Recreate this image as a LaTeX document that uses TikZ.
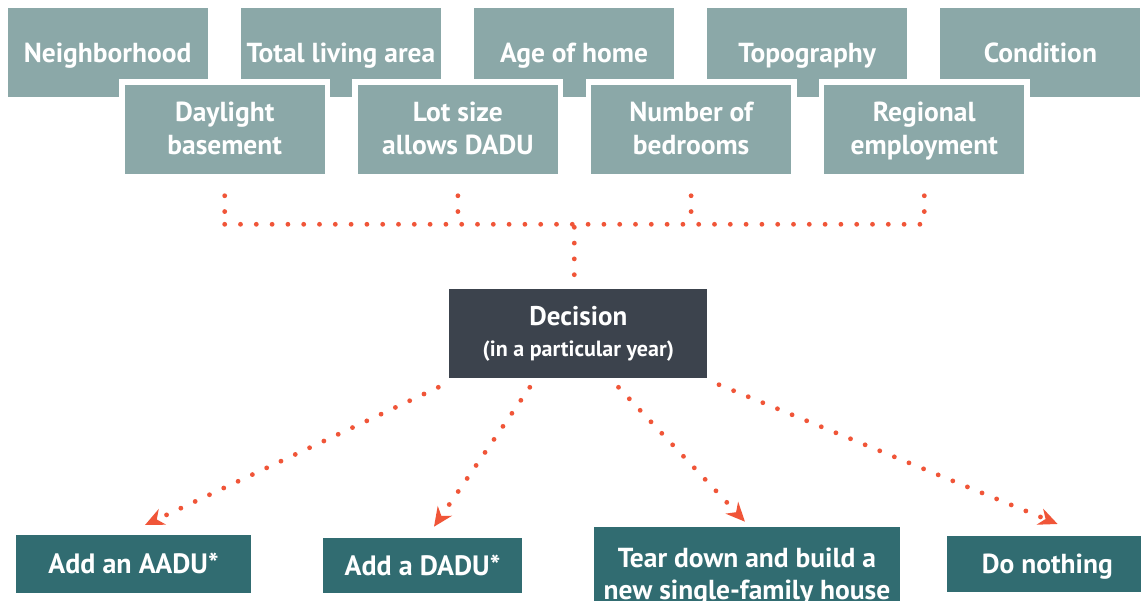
\documentclass[tikz,border=0pt]{standalone}
\usepackage{fontspec}
\setmainfont{PT Sans}
\usetikzlibrary{arrows.meta,calc}
\definecolor{topc}{HTML}{8BA8A8}
\definecolor{decc}{HTML}{3C434D}
\definecolor{botc}{HTML}{316C71}
\definecolor{dotc}{HTML}{F05538}
\begin{document}
\begin{tikzpicture}[x=1pt,y=-1pt,
  topbox/.style={fill=topc, minimum width=200pt, minimum height=89pt, inner sep=0pt, outer sep=0pt,
    text=white, font=\bfseries\fontsize{27.5}{33}\selectfont, align=center, text height=26pt, text depth=6.8pt},
  lowbox/.style={fill=topc, draw=white, line width=5.5pt, minimum width=205.5pt, minimum height=94.5pt,
    inner sep=0pt, outer sep=0pt, text=white, font=\bfseries\fontsize{27.5}{33}\selectfont, align=center,
    text depth=2pt},
  decbox/.style={fill=decc, minimum width=258pt, minimum height=89pt, inner sep=0pt, outer sep=0pt,
    text=white, align=center, font=\bfseries\fontsize{22}{31}\selectfont, text depth=4pt},
  botbox/.style={fill=botc, minimum height=58pt, inner sep=0pt, outer sep=0pt,
    text=white, font=\bfseries\fontsize{28}{32}\selectfont, align=center, text depth=1pt},
  dotline/.style={draw=dotc, line width=4.8pt, line cap=round, dash pattern=on 0pt off 15.8pt},
  arr/.style={dotline, -{Stealth[length=19pt,width=17pt,inset=6pt]}}]
\clip (0,0) rectangle (1141,601);
\fill[white] (0,0) rectangle (1141,601);
% top row
\node[topbox] (t1) at (107.6,52.8) {Neighborhood};
\node[topbox] (t2) at (340.9,52.8) {Total living area};
\node[topbox] (t3) at (574.1,52.8) {Age of home};
\node[topbox] (t4) at (807.2,52.8) {Topography};
\node[topbox] (t5) at (1040.4,52.8) {Condition};
% second row
\node[lowbox] (l1) at (224.7,129.5) {Daylight\\basement};
\node[lowbox] (l2) at (457.9,129.5) {Lot size\\allows DADU};
\node[lowbox] (l3) at (691.1,129.5) {Number of\\bedrooms};
\node[lowbox] (l4) at (924.3,129.5) {Regional\\employment};
% decision
\node[decbox] (dec) at (578.3,333.8) {{\fontsize{27}{31}\selectfont Decision}\\(in a particular year)};
% outcomes
\node[botbox, minimum width=235.3pt] (o1) at (133.5,564) {Add an AADU*};
\node[botbox, minimum width=199pt, minimum height=55pt] (o2) at (422.5,565.5) {Add a DADU*};
\node[botbox, minimum width=306pt, minimum height=94pt, font=\bfseries\fontsize{27.5}{32}\selectfont] (o3) at (747,574) {Tear down and build a\\new single-family house};
\node[botbox, minimum width=200pt, minimum height=56pt, font=\bfseries\fontsize{27.5}{32}\selectfont] (o4) at (1047.3,564) {Do nothing};
% tree connectors
\coordinate (bar) at (0,224.3);
\coordinate (hl) at (224.7,224.3);
\coordinate (hr) at (924.3,224.3);
\coordinate (jn) at (574.3,224.3);
\foreach \n in {l1,l2,l3,l4}
  \draw[dotline, shorten <=19pt] (\n.south) -- (\n.south |- bar);
\draw[dotline] (hl) -- (hr);
\draw[dotline, shorten <=3pt, shorten >=11pt] (jn) -- (jn |- dec.north);
% arrows
\coordinate (s1) at ($(dec.south west)+(-11,9)$);
\coordinate (s2) at ($(dec.south)+(-48.5,9)$);
\coordinate (s3) at ($(dec.south)+(40.2,9)$);
\coordinate (s4) at ($(dec.south east)+(11.7,6.4)$);
\coordinate (e1) at (145,525);
\coordinate (e2) at (434,526.7);
\coordinate (e3) at (745,521.7);
\coordinate (e4) at (1057.6,524);
\draw[arr] (s1) -- (e1);
\draw[arr] (s2) -- (e2);
\draw[arr] (s3) -- (e3);
\draw[arr] (s4) -- (e4);
\end{tikzpicture}
\end{document}
